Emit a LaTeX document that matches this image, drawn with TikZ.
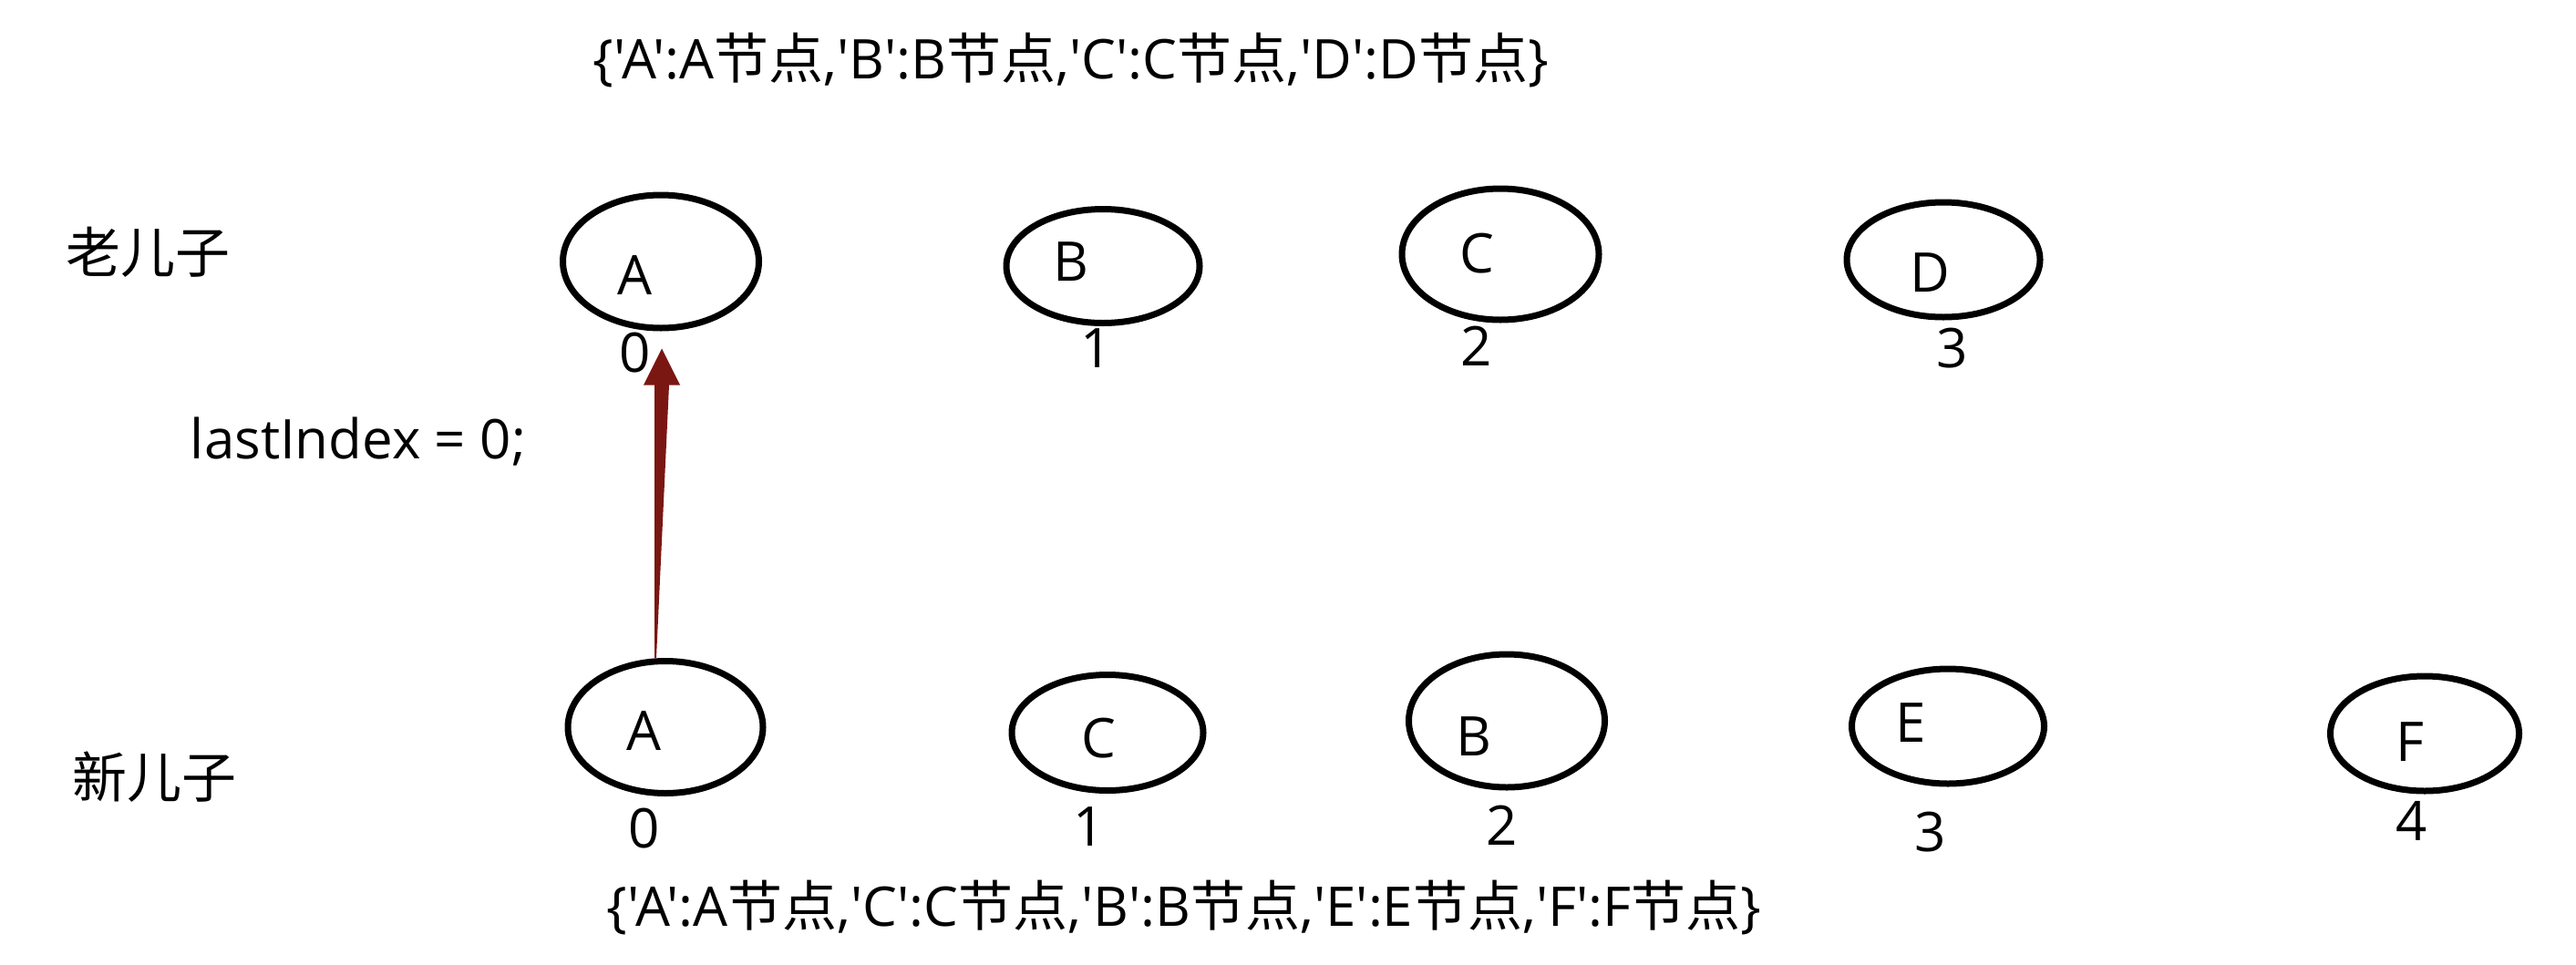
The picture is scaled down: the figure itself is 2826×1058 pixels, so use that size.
\documentclass[tikz,border=0pt]{standalone}
\usepackage{fontspec}
\newfontfamily\latin{Open Sans}
\newfontfamily\cjk{Noto Sans CJK SC}
\newcommand\jd{{\cjk 节点}}
\usetikzlibrary{shapes.geometric,calc}
\definecolor{arrowred}{HTML}{7A1712}
\begin{document}
\begin{tikzpicture}[x=1pt,y=-1pt,
  ell/.style={draw,line width=7pt,ellipse,inner sep=0pt},
  lbl/.style={inner sep=0pt,font=\latin\fontsize{60}{72}\selectfont},
  cjklbl/.style={inner sep=0pt,font=\cjk\fontsize{60}{72}\selectfont}]
\useasboundingbox[fill=white] (0,0) rectangle (2826,1058);

% top dictionary
\node[lbl] (topdict) at (1175,66) {\{'A':A\jd,'B':B\jd,'C':C\jd,'D':D\jd\}};
\node[lbl] (botdict) at (1299,996) {\{'A':A\jd,'C':C\jd,'B':B\jd,'E':E\jd,'F':F\jd\}};

% row labels
\node[cjklbl] (old) at (162,277) {老儿子};
\node[cjklbl] (new) at (169,853) {新儿子};
\node[lbl] (last) at (393,485) {lastIndex = 0;};

% old children
\node[ell,minimum width=215pt,minimum height=146pt] (oA) at (725,287) {};
\node[ell,minimum width=212pt,minimum height=125pt] (oB) at (1210,292) {};
\node[ell,minimum width=216pt,minimum height=144pt] (oC) at (1646,279) {};
\node[ell,minimum width=212pt,minimum height=126pt] (oD) at (2132,285) {};
\node[lbl] (oAt) at (696,302) {A};
\node[lbl] (oBt) at (1175,287) {B};
\node[lbl] (oCt) at (1620,278) {C};
\node[lbl] (oDt) at (2117,299) {D};
\node[lbl] (oAi) at (697,387) {0};
\node[lbl] (oBi) at (1203,382) {1};
\node[lbl] (oCi) at (1620,380) {2};
\node[lbl] (oDi) at (2142,382) {3};

% new children
\node[ell,minimum width=214pt,minimum height=145pt] (nA) at (730,798) {};
\node[ell,minimum width=210pt,minimum height=127pt] (nC) at (1215,804) {};
\node[ell,minimum width=215pt,minimum height=146pt] (nB) at (1653,791) {};
\node[ell,minimum width=211pt,minimum height=126pt] (nE) at (2137,797) {};
\node[ell,minimum width=207pt,minimum height=126pt] (nF) at (2660,805) {};
\node[lbl] (nAt) at (706,802) {A};
\node[lbl] (nCt) at (1205,810) {C};
\node[lbl] (nBt) at (1617,808) {B};
\node[lbl] (nEt) at (2096,793) {E};
\node[lbl] (nFt) at (2644,814) {F};
\node[lbl] (nAi) at (707,909) {0};
\node[lbl] (nCi) at (1195,907) {1};
\node[lbl] (nBi) at (1648,906) {2};
\node[lbl] (nEi) at (2118,913) {3};
\node[lbl] (nFi) at (2646,901) {4};

% tapered arrow from new A up to old A
\coordinate (as) at ($(nA.north)+(-11,0)$);
\coordinate (at) at ($(oA.south)+(1,19)$);
\fill[arrowred] ($(as)+(-1,0)$) -- ($(at)+(-8,40)$) -- ($(at)+(-20,40)$) -- (at)
  -- ($(at)+(20,40)$) -- ($(at)+(8,40)$) -- ($(as)+(1,0)$) -- cycle;
\end{tikzpicture}
\end{document}
